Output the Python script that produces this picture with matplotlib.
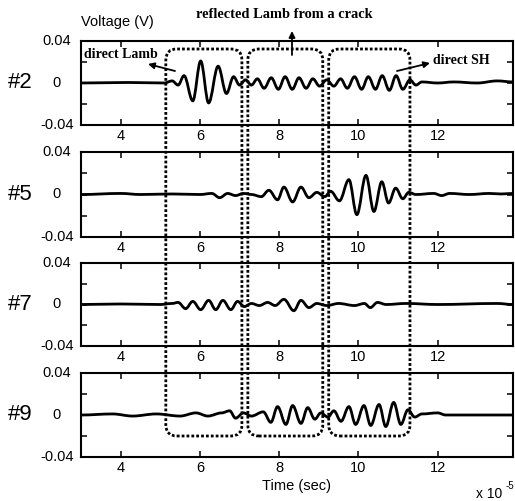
import matplotlib
matplotlib.use('Agg')
import matplotlib.pyplot as plt
from matplotlib.patches import FancyBboxPatch, PathPatch
from matplotlib.path import Path
from matplotlib.transforms import IdentityTransform, blended_transform_factory

# ---------------- data (time in units of 1e-5 s, voltage in V) ----------------
# each series lists the read-off peaks / troughs of the waveform
panel_labels = ['#2', '#5', '#7', '#9']

t_2 = [3.0, 4.2, 5.1, 5.3, 5.45, 5.6, 5.82, 6.02, 6.22, 6.46, 6.67, 6.85, 7.0, 7.15, 7.3,
       7.45, 7.62, 7.8, 7.98, 8.15, 8.33, 8.5, 8.68, 8.85, 9.02, 9.2, 9.38, 9.55, 9.72,
       9.9, 10.08, 10.25, 10.43, 10.6, 10.78, 10.95, 11.12, 11.3, 11.45, 11.6, 12.0,
       12.4, 13.0, 13.5, 13.9]
v_2 = [0.0, 0.0005, 0.0, 0.002, -0.002, 0.007, -0.017, 0.021, -0.019, 0.016, -0.010, 0.006,
       -0.002, 0.003, -0.002, 0.004, -0.005, 0.005, -0.006, 0.006, -0.006, 0.005, -0.005,
       0.004, -0.003, 0.003, -0.003, 0.004, -0.005, 0.006, -0.006, 0.006, -0.006, 0.007,
       -0.007, 0.007, -0.006, 0.003, -0.002, 0.001, 0.0, 0.001, 0.0, 0.002, 0.001]

t_5 = [3.0, 4.0, 4.5, 5.3, 6.0, 6.3, 6.5, 6.7, 6.9, 7.1, 7.3, 7.55, 7.74, 7.96, 8.12, 8.34,
       8.55, 8.75, 8.95, 9.15, 9.3, 9.52, 9.76, 9.96, 10.19, 10.39, 10.59, 10.76, 10.94,
       11.12, 11.27, 11.45, 11.9, 12.1, 12.3, 12.8, 13.3, 13.6, 13.9]
v_5 = [0.0, 0.001, 0.0, 0.0005, 0.0, 0.001, -0.003, 0.001, -0.001, 0.001, 0.0, -0.002,
       0.004, -0.005, 0.007, -0.007, 0.007, -0.003, 0.002, -0.002, 0.003, -0.006, 0.014,
       -0.019, 0.018, -0.016, 0.012, -0.008, 0.006, -0.004, 0.002, 0.0, 0.001, -0.001,
       0.001, 0.0, 0.001, 0.0005, 0.001]

t_7 = [3.0, 4.0, 5.0, 5.3, 5.45, 5.64, 5.82, 6.02, 6.22, 6.4, 6.58, 6.78, 6.95, 7.12, 7.3,
       7.5, 7.71, 7.9, 8.12, 8.37, 8.55, 8.75, 8.95, 9.2, 9.5, 9.9, 10.15, 10.3, 10.48,
       10.7, 11.2, 12.0, 13.5, 13.9]
v_7 = [0.0, 0.0005, 0.0, 0.001, 0.002, -0.004, 0.003, -0.005, 0.004, -0.005, 0.004, -0.005,
       0.003, -0.002, 0.001, -0.001, 0.002, -0.001, 0.005, -0.006, 0.004, -0.003, 0.001,
       -0.001, 0.001, -0.001, 0.001, -0.003, 0.002, 0.0, 0.001, 0.0, 0.001, 0.0]

t_9 = [3.0, 3.8, 4.3, 4.9, 5.5, 5.9, 6.2, 6.55, 6.75, 6.9, 7.1, 7.3, 7.6, 7.79, 7.96, 8.17,
       8.34, 8.55, 8.72, 8.9, 9.05, 9.23, 9.38, 9.56, 9.76, 9.93, 10.14, 10.31, 10.52,
       10.69, 10.89, 11.07, 11.25, 11.42, 11.6, 12.0, 12.2, 13.9]
v_9 = [0.0, 0.001, -0.001, 0.001, -0.001, 0.002, -0.001, 0.002, 0.004, -0.003, 0.002,
       -0.001, 0.003, -0.007, 0.008, -0.009, 0.009, -0.008, 0.007, -0.004, 0.002, -0.002,
       0.004, -0.006, 0.008, -0.009, 0.009, -0.010, 0.010, -0.011, 0.012, -0.009, 0.005,
       -0.002, 0.001, 0.002, 0.0, 0.0]

times = [t_2, t_5, t_7, t_9]
volts = [v_2, v_5, v_7, v_9]

xlim = (3.0, 13.9)
ylim = (-0.04, 0.04)
xticks = [4, 6, 8, 10, 12]
xtick_labels = ['4', '6', '8', '10', '12']
yticks = [-0.04, -0.02, 0.0, 0.02, 0.04]
ytick_labels = ['-0.04', '', '0', '', '0.04']

# time windows of the dotted boxes
box_windows = [(5.14, 7.06), (7.21, 9.10), (9.25, 11.30)]


def smooth_path(ts, vs):
    """Cubic Bezier through the extrema with flat tangents (sine-like swings)."""
    verts = [(ts[0], vs[0])]
    codes = [Path.MOVETO]
    for i in range(len(ts) - 1):
        dt = ts[i + 1] - ts[i]
        verts += [(ts[i] + dt * 0.36, vs[i]), (ts[i + 1] - dt * 0.36, vs[i + 1]),
                  (ts[i + 1], vs[i + 1])]
        codes += [Path.CURVE4] * 3
    return Path(verts, codes)


# ---------------- layout ----------------
W, H = 515, 501
plt.rcParams['font.family'] = ['Liberation Sans', 'DejaVu Sans']
fig = plt.figure(figsize=(W / 100, H / 100), dpi=100)

tops_px = [41, 152, 263, 373]
bots_px = [125, 237, 346, 457]
left_px, right_px = 81, 513

axes = []
for i in range(4):
    ax = fig.add_axes([left_px / W, 1 - bots_px[i] / H,
                       (right_px - left_px) / W, (bots_px[i] - tops_px[i]) / H])
    ax.add_patch(PathPatch(smooth_path(times[i], volts[i]), fill=False,
                           edgecolor='black', lw=2.0, joinstyle='round',
                           capstyle='round'))
    ax.set_xlim(*xlim)
    ax.set_ylim(*ylim)
    ax.set_xticks(xticks)
    ax.set_xticklabels(xtick_labels, fontsize=10.5)
    ax.set_yticks(yticks)
    ax.set_yticklabels([])
    ax.tick_params(direction='in', length=4, width=1.1, top=True, right=True, pad=3)
    for s in ax.spines.values():
        s.set_linewidth(1.5)
    tr = blended_transform_factory(ax.transAxes, ax.transData)
    for val, lab in zip(yticks, ytick_labels):
        if lab:
            ax.text(-0.056, val, lab, transform=tr, ha='center', va='center', fontsize=10.5)
    ax.text(-0.141, 0.0, panel_labels[i], transform=tr, ha='center', va='center', fontsize=16)
    axes.append(ax)

# dotted rounded boxes spanning all panels
box_top_px, box_bot_px = 49, 436
for t0, t1 in box_windows:
    x0 = axes[3].transData.transform((t0, 0))[0]
    x1 = axes[3].transData.transform((t1, 0))[0]
    patch = FancyBboxPatch((x0, H - box_bot_px), x1 - x0, box_bot_px - box_top_px,
                           boxstyle='round,pad=0,rounding_size=11',
                           transform=IdentityTransform(), fill=False,
                           lw=2.0, ls=(0, (1, 0.75)), edgecolor='black', zorder=20)
    fig.add_artist(patch)

# texts
serif = ['Liberation Serif', 'DejaVu Serif']
fig.text(81 / W, 1 - 22 / H, 'Voltage (V)', ha='left', va='center', fontsize=10.5)
fig.text(284 / W, 1 - 15 / H, 'reflected Lamb from a crack', ha='center', va='center',
         fontsize=10.4, family=serif, fontweight='bold')
fig.text(84 / W, 1 - 54 / H, 'direct Lamb', ha='left', va='center', fontsize=10,
         family=serif, fontweight='bold')
fig.text(433 / W, 1 - 60 / H, 'direct SH', ha='left', va='center', fontsize=10,
         family=serif, fontweight='bold')
fig.text(297 / W, 1 - 486 / H, 'Time (sec)', ha='center', va='center', fontsize=10.5)
fig.text(476 / W, 1 - 494 / H, 'x 10', ha='left', va='center', fontsize=10)
fig.text(506 / W, 1 - 486 / H, '-5', ha='left', va='center', fontsize=7)

arrow_kw = dict(arrowstyle='-|>', lw=1.3, color='black', mutation_scale=9, shrinkA=0, shrinkB=0)
for tail, head in [((175, 71), (148, 64)), ((292, 55), (292, 31)), ((397, 71), (430, 63))]:
    axes[0].annotate('', xy=(head[0], H - head[1]), xytext=(tail[0], H - tail[1]),
                     xycoords='figure pixels', textcoords='figure pixels',
                     arrowprops=arrow_kw, annotation_clip=False)

fig.savefig('out.png', dpi=100)
